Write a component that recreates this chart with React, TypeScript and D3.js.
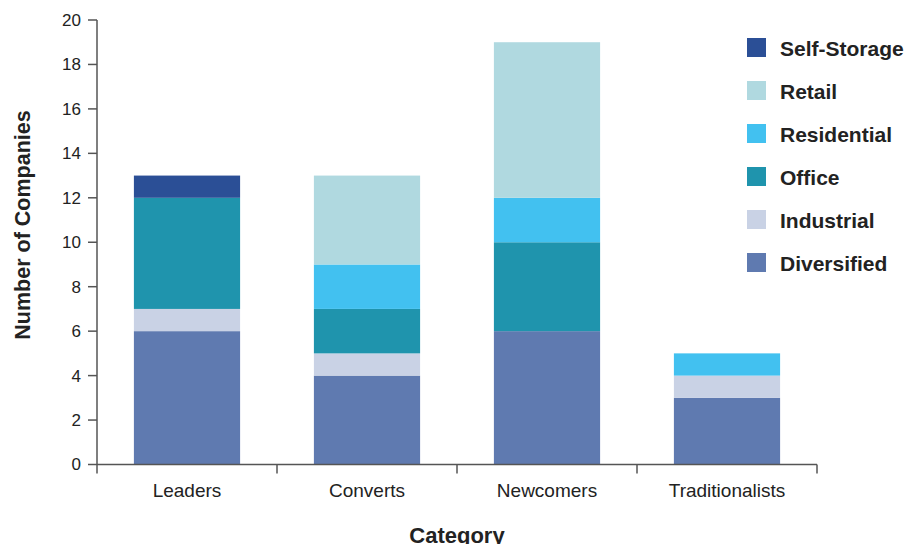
import React from "react";
import * as d3 from "d3";

const categories = ["Leaders", "Converts", "Newcomers", "Traditionalists"];
const seriesNames = ["Diversified", "Industrial", "Office", "Residential", "Retail", "Self-Storage"];
const diversified = [6, 4, 6, 3];
const industrial = [1, 1, 0, 1];
const office = [5, 2, 4, 0];
const residential = [0, 2, 2, 1];
const retail = [0, 4, 7, 0];
const selfStorage = [1, 0, 0, 0];
const colors = ["#5F7AB0", "#C9D2E5", "#1F94AD", "#42C1F0", "#B0D9E0", "#2B4F96"];
const yTicks = [0, 2, 4, 6, 8, 10, 12, 14, 16, 18, 20];

const W = 911;
const H = 544;
const margin = { left: 97, right: 94, top: 20, bottom: 79.5 };

export default function App() {
  const values = [diversified, industrial, office, residential, retail, selfStorage];
  const rows = categories.map((c, i) => {
    const r: any = { cat: c };
    seriesNames.forEach((s, k) => (r[s] = values[k][i]));
    return r;
  });
  const stacked = d3.stack().keys(seriesNames)(rows as any);
  const x = d3.scaleBand().domain(categories).range([margin.left, W - margin.right]).paddingInner(0).paddingOuter(0);
  const y = d3.scaleLinear().domain([0, 20]).range([H - margin.bottom, margin.top]);
  const bw = x.bandwidth() * 0.59;
  const axisColor = "#555";
  const textColor = "#222";
  const font = "'Liberation Sans', Arial, sans-serif";
  const narrow = "'Liberation Sans Narrow', 'Liberation Sans', Arial, sans-serif";
  const legendOrder = [...seriesNames].reverse();

  return (
    <svg width={W} height={H} style={{ position: "absolute", left: 0, top: 0, background: "#fff" }}>
      {stacked.map((layer, k) => (
        <g key={layer.key} fill={colors[k]}>
          {layer.map((d: any, i: number) =>
            d[1] - d[0] > 0 ? (
              <rect
                key={i}
                x={(x(categories[i]) as number) + (x.bandwidth() - bw) / 2}
                y={y(d[1])}
                width={bw}
                height={y(d[0]) - y(d[1])}
              />
            ) : null
          )}
        </g>
      ))}
      {/* y axis */}
      <line x1={margin.left} x2={margin.left} y1={y(20)} y2={y(0)} stroke={axisColor} strokeWidth={1.5} />
      {yTicks.map((t) => (
        <g key={t}>
          <line x1={margin.left - 9} x2={margin.left} y1={y(t)} y2={y(t)} stroke={axisColor} strokeWidth={1.5} />
          <text x={margin.left - 16} y={y(t)} dy="0.35em" textAnchor="end" fontSize={17} fontFamily={font} fill={textColor}>
            {t}
          </text>
        </g>
      ))}
      {/* x axis */}
      <line x1={margin.left} x2={W - margin.right} y1={y(0)} y2={y(0)} stroke={axisColor} strokeWidth={1.5} />
      {[...categories.map((c) => x(c) as number), W - margin.right].map((p, i) => (
        <line key={i} x1={p} x2={p} y1={y(0)} y2={y(0) + 9} stroke={axisColor} strokeWidth={1.5} />
      ))}
      {categories.map((c) => (
        <text
          key={c}
          x={(x(c) as number) + x.bandwidth() / 2}
          y={y(0) + 32}
          textAnchor="middle"
          fontSize={19}
          fontFamily={narrow}
          fill={textColor}
        >
          {c}
        </text>
      ))}
      <text x={457} y={543} textAnchor="middle" fontSize={22} fontWeight="bold" fontFamily={font} fill={textColor}>
        Category
      </text>
      <text
        transform={`translate(30, ${225}) rotate(-90)`}
        textAnchor="middle"
        fontSize={21.5}
        fontWeight="bold"
        fontFamily={font}
        fill={textColor}
      >
        Number of Companies
      </text>
      {/* legend */}
      {legendOrder.map((s, i) => {
        const k = seriesNames.indexOf(s);
        const cy = 48 + i * 43;
        return (
          <g key={s}>
            <rect x={747} y={cy - 10} width={19} height={19} fill={colors[k]} />
            <text x={780} y={cy} dy="0.36em" fontSize={21} fontWeight="bold" fontFamily={font} fill={textColor}>
              {s}
            </text>
          </g>
        );
      })}
    </svg>
  );
}
